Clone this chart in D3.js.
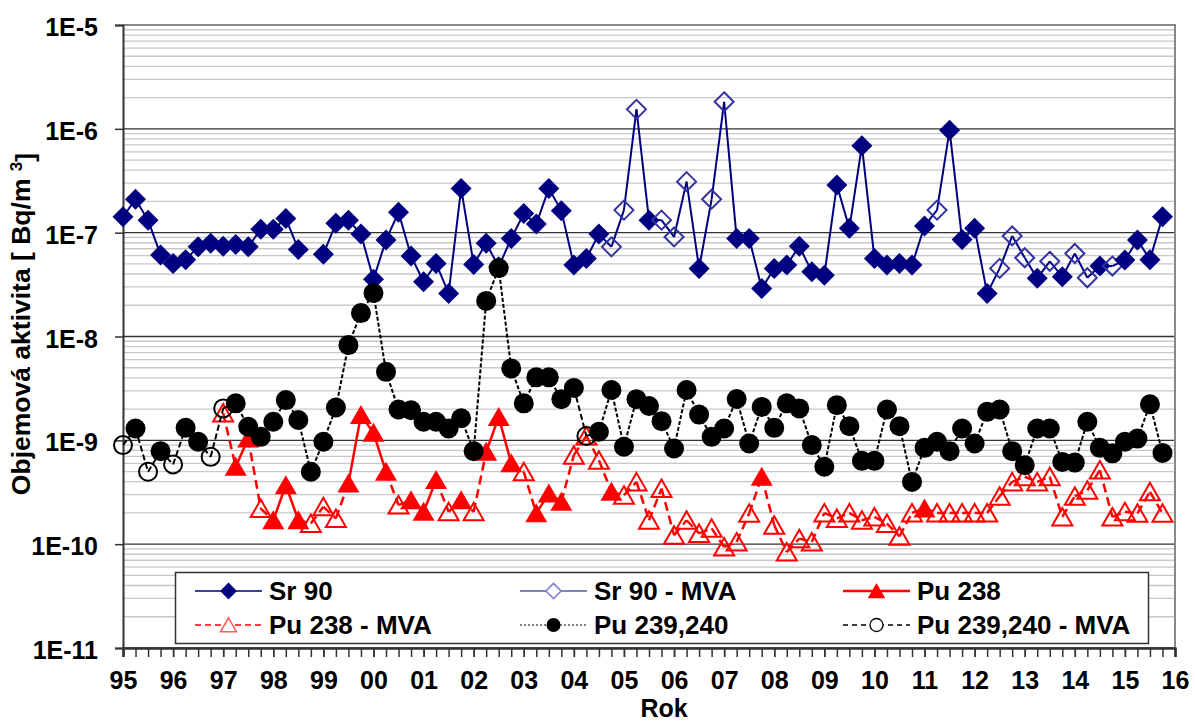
<!DOCTYPE html>
<html>
<head>
<meta charset="utf-8">
<script src="https://cdnjs.cloudflare.com/ajax/libs/d3/7.8.5/d3.min.js"></script>
<style>
  body { margin: 0; background: #fff; }
  text { font-family: "Liberation Sans", Arial, sans-serif; font-weight: bold; fill: #000; }
</style>
</head>
<body>
<div id="chart"></div>
<script>
// one value per quarter, 1995 Q1 .. 2015 Q4 (one year per row)
const yearLabels = ['95','96','97','98','99','00','01','02','03','04','05',
  '06','07','08','09','10','11','12','13','14','15','16'];
const yTickLabels = ['1E-11','1E-10','1E-9','1E-8','1E-7','1E-6','1E-5'];

const sr90 = [
  1.42e-7, 2.1e-7, 1.32e-7, 6.1e-8,
  5.06e-8, 5.5e-8, 7.3e-8, 7.9e-8,
  7.4e-8, 7.7e-8, 7.3e-8, 1.08e-7,
  1.08e-7, 1.37e-7, 6.9e-8, null,
  6.2e-8, 1.23e-7, 1.32e-7, 9.7e-8,
  3.55e-8, 8.5e-8, 1.57e-7, 5.95e-8,
  3.37e-8, 5.06e-8, 2.6e-8, 2.67e-7,
  4.95e-8, 7.9e-8, 4.7e-8, 8.8e-8,
  1.53e-7, 1.21e-7, 2.67e-7, 1.63e-7,
  4.88e-8, 5.65e-8, 9.7e-8, null,
  null, null, 1.32e-7, null,
  null, null, 4.53e-8, null,
  null, 8.8e-8, 8.8e-8, 2.9e-8,
  4.53e-8, 4.88e-8, 7.4e-8, 4.2e-8,
  3.9e-8, 2.88e-7, 1.1e-7, 6.88e-7,
  5.65e-8, 4.88e-8, 5.06e-8, 4.88e-8,
  1.16e-7, null, 9.7e-7, 8.6e-8,
  1.1e-7, 2.6e-8, null, null,
  null, 3.63e-8, null, 3.77e-8,
  null, null, 4.77e-8, null,
  5.45e-8, 8.5e-8, 5.5e-8, 1.42e-7
];
const sr90Mva = [
  null, null, null, null,
  null, null, null, null,
  null, null, null, null,
  null, null, null, null,
  null, null, null, null,
  null, null, null, null,
  null, null, null, null,
  null, null, null, null,
  null, null, null, null,
  null, null, null, 7.3e-8,
  1.65e-7, 1.54e-6, null, 1.32e-7,
  9.1e-8, 3.1e-7, null, 2.1e-7,
  1.82e-6, null, null, null,
  null, null, null, null,
  null, null, null, null,
  null, null, null, null,
  null, 1.65e-7, null, null,
  null, null, 4.53e-8, 9.3e-8,
  5.73e-8, null, 5.3e-8, null,
  6.3e-8, 3.68e-8, null, 4.77e-8,
  null, null, null, null
];
const pu238 = [
  null, null, null, null,
  null, null, null, null,
  null, 5.56e-10, 1.04e-9, null,
  1.7e-10, 3.7e-10, 1.7e-10, null,
  null, null, 3.85e-10, 1.75e-9,
  1.18e-9, 4.98e-10, null, 2.65e-10,
  2.05e-10, 4.14e-10, null, 2.65e-10,
  null, 7.75e-10, 1.68e-9, 6.0e-10,
  null, 1.98e-10, 3.07e-10, 2.56e-10,
  null, null, null, 3.19e-10,
  null, null, null, null,
  null, null, null, null,
  null, null, null, 4.46e-10,
  null, null, null, null,
  null, null, null, null,
  null, null, null, null,
  2.2e-10, null, null, null,
  null, null, null, null,
  null, null, null, null,
  null, null, null, null,
  null, null, null, null
];
const pu238Mva = [
  null, null, null, null,
  null, null, null, null,
  1.83e-9, null, null, 2.2e-10,
  null, null, null, 1.58e-10,
  2.29e-10, 1.77e-10, null, null,
  null, null, 2.38e-10, null,
  null, null, 2.05e-10, null,
  2.05e-10, null, null, null,
  4.98e-10, null, null, null,
  7.2e-10, 1.1e-9, 6.44e-10, null,
  2.96e-10, 3.98e-10, 1.7e-10, 3.43e-10,
  1.22e-10, 1.7e-10, 1.27e-10, 1.42e-10,
  9.4e-11, 1.05e-10, 1.98e-10, null,
  1.52e-10, 8.4e-11, 1.13e-10, 1.05e-10,
  2.0e-10, 1.77e-10, 2.0e-10, 1.7e-10,
  1.83e-10, 1.58e-10, 1.19e-10, 2.0e-10,
  null, 2.0e-10, 2.0e-10, 2.0e-10,
  2.0e-10, 2.0e-10, 2.9e-10, 3.98e-10,
  4.46e-10, 3.98e-10, 4.46e-10, 1.83e-10,
  2.9e-10, 3.3e-10, 5.17e-10, 1.83e-10,
  2.05e-10, 1.98e-10, 3.19e-10, 1.98e-10
];
const pu239 = [
  null, 1.3e-9, null, 7.87e-10,
  null, 1.32e-9, 9.7e-10, null,
  null, 2.27e-9, 1.35e-9, 1.08e-9,
  1.51e-9, 2.44e-9, 1.57e-9, 4.98e-10,
  9.7e-10, 2.07e-9, 8.26e-9, 1.68e-8,
  2.62e-8, 4.57e-9, 1.98e-9, 1.95e-9,
  1.51e-9, 1.51e-9, 1.3e-9, 1.63e-9,
  7.87e-10, 2.2e-8, 4.56e-8, 4.93e-9,
  2.27e-9, 4.04e-9, 4.04e-9, 2.49e-9,
  3.2e-9, null, 1.21e-9, 3.05e-9,
  8.67e-10, 2.49e-9, 2.14e-9, 1.53e-9,
  8.35e-10, 3.05e-9, 1.77e-9, 1.08e-9,
  1.3e-9, 2.5e-9, 9.33e-10, 2.1e-9,
  1.32e-9, 2.27e-9, 2.03e-9, 9.0e-10,
  5.56e-10, 2.18e-9, 1.37e-9, 6.35e-10,
  6.35e-10, 1.98e-9, 1.37e-9, 3.98e-10,
  8.47e-10, 9.7e-10, 7.87e-10, 1.3e-9,
  9.33e-10, 1.88e-9, 1.98e-9, 7.87e-10,
  5.77e-10, 1.3e-9, 1.3e-9, 6.2e-10,
  6.1e-10, 1.51e-9, 8.47e-10, 7.5e-10,
  9.7e-10, 1.04e-9, 2.22e-9, 7.57e-10
];
const pu239Mva = [
  9.0e-10, null, 4.98e-10, null,
  5.86e-10, null, null, 6.94e-10,
  2.03e-9, null, null, null,
  null, null, null, null,
  null, null, null, null,
  null, null, null, null,
  null, null, null, null,
  null, null, null, null,
  null, null, null, null,
  null, 1.1e-9, null, null,
  null, null, null, null,
  null, null, null, null,
  null, null, null, null,
  null, null, null, null,
  null, null, null, null,
  null, null, null, null,
  null, null, null, null,
  null, null, null, null,
  null, null, null, null,
  null, null, null, null,
  null, null, null, null
];

const width = 1195, height = 724;
const margin = {top: 25, right: 20, bottom: 76, left: 123};

const svg = d3.select('#chart').append('svg')
  .attr('width', width)
  .attr('height', height);

const x = d3.scaleLinear().domain([95, 116]).range([margin.left, width - margin.right]);
const y = d3.scaleLog().domain([1e-11, 1e-5]).range([height - margin.bottom, margin.top]);
const qx = i => x(95 + i / 4);

// gridlines
const minor = [];
for (let e = -11; e < -5; e++) for (let k = 2; k <= 9; k++) minor.push(k * Math.pow(10, e));
const decades = yTickLabels.map(s => +s);

svg.append('g').selectAll('line').data(minor).enter().append('line')
  .attr('x1', x(95)).attr('x2', x(116))
  .attr('y1', d => y(d)).attr('y2', d => y(d))
  .style('stroke', '#c8c8c8').style('stroke-width', 1.3);
svg.append('g').selectAll('line').data(decades.slice(0, -1)).enter().append('line')
  .attr('x1', x(95)).attr('x2', x(116))
  .attr('y1', d => y(d)).attr('y2', d => y(d))
  .style('stroke', '#333').style('stroke-width', 1.3);

// plot border (top / right)
svg.append('path')
  .attr('d', `M${x(95)},${y(1e-5)}H${x(116)}V${y(1e-11)}`)
  .style('fill', 'none').style('stroke', '#888').style('stroke-width', 2);

// axes
const yAxis = svg.append('g')
  .attr('transform', `translate(${margin.left},0)`)
  .call(d3.axisLeft(y).tickValues(decades)
    .tickFormat((d, i) => yTickLabels[i]).tickSize(8).tickPadding(17));
yAxis.selectAll('text').attr('dy', '0.42em').style('font-size', '25px');

const quarterTicks = d3.range(0, 85).map(i => 95 + i / 4);
svg.append('g')
  .attr('transform', `translate(0,${y(1e-11)})`)
  .call(d3.axisBottom(x).tickValues(quarterTicks).tickFormat('').tickSize(9));
const xAxis = svg.append('g')
  .attr('transform', `translate(0,${y(1e-11)})`)
  .call(d3.axisBottom(x).tickValues(d3.range(95, 117))
    .tickFormat((d, i) => yearLabels[i]).tickSize(9).tickPadding(14));
xAxis.selectAll('text').style('font-size', '25px');

svg.selectAll('.domain').style('stroke', '#333').style('stroke-width', 2);
svg.selectAll('.tick line').style('stroke', '#333').style('stroke-width', 1.5);

// axis titles
svg.append('text')
  .attr('x', 664).attr('y', 717)
  .style('text-anchor', 'middle').style('font-size', '25px')
  .text('Rok');

const yTitle = svg.append('text')
  .attr('transform', 'translate(30,324) rotate(-90)')
  .style('text-anchor', 'middle').style('font-size', '26.5px');
yTitle.append('tspan').text('Objemová aktivita [ Bq/m ');
yTitle.append('tspan').attr('dy', '-0.45em').style('font-size', '17px').text('3');
yTitle.append('tspan').attr('dy', '0.45em').text(']');

// marker shapes
const shapes = {
  diamond: 'M0,-10.5L10.5,0L0,10.5L-10.5,0Z',
  diamondOpen: 'M0,-9.5L9.5,0L0,9.5L-9.5,0Z',
  triangle: 'M0,-10L11,9L-11,9Z',
  triangleOpen: 'M0,-9L10,8.5L-10,8.5Z'
};

const line = d3.line().x(d => qx(d.i)).y(d => y(d.v));

function drawSeries(vals, mvaVals, opt) {
  const pts = vals.map((v, i) => {
    if (v != null) return {i: i, v: v, mva: false};
    if (mvaVals[i] != null) return {i: i, v: mvaVals[i], mva: true};
    return null;
  });
  const g = svg.append('g');
  // line segments between neighbouring quarters
  for (let i = 0; i < pts.length - 1; i++) {
    const a = pts[i], b = pts[i + 1];
    if (!a || !b) continue;
    const m = a.mva || b.mva;
    g.append('path')
      .attr('d', line([a, b]))
      .style('fill', 'none')
      .style('stroke', m ? opt.mvaStroke : opt.stroke)
      .style('stroke-width', opt.width)
      .style('stroke-dasharray', m ? opt.mvaDash : opt.dash);
  }
  pts.filter(p => p).forEach(p => {
    const node = p.mva ? opt.open : opt.filled;
    if (node === 'circle') {
      g.append('circle').attr('cx', qx(p.i)).attr('cy', y(p.v)).attr('r', 10)
        .style('fill', opt.color);
    } else if (node === 'circleOpen') {
      g.append('circle').attr('cx', qx(p.i)).attr('cy', y(p.v)).attr('r', 9)
        .style('fill', 'none').style('stroke', opt.color).style('stroke-width', 2);
    } else {
      const isOpen = node.indexOf('Open') > 0;
      g.append('path')
        .attr('d', shapes[node])
        .attr('transform', `translate(${qx(p.i)},${y(p.v)})`)
        .style('fill', isOpen ? 'none' : opt.color)
        .style('stroke', isOpen ? opt.openColor : 'none')
        .style('stroke-width', 2);
    }
  });
}

drawSeries(sr90, sr90Mva, {
  stroke: '#000080', mvaStroke: '#000080', width: 2, dash: null, mvaDash: null,
  color: '#000080', openColor: '#3333a0', filled: 'diamond', open: 'diamondOpen'
});
drawSeries(pu238, pu238Mva, {
  stroke: '#ff0000', mvaStroke: '#ff0000', width: 2.5, dash: null, mvaDash: '9,5',
  color: '#ff0000', openColor: '#ff0000', filled: 'triangle', open: 'triangleOpen'
});
drawSeries(pu239, pu239Mva, {
  stroke: '#000', mvaStroke: '#000', width: 2, dash: '4,2', mvaDash: '6,3',
  color: '#000', openColor: '#000', filled: 'circle', open: 'circleOpen'
});

// legend
const legendItems = [
  {name: 'Sr 90', col: 0, row: 0, stroke: '#000080', w: 1.5, dash: null, mark: 'diamond', fill: '#000080'},
  {name: 'Sr 90 - MVA', col: 1, row: 0, stroke: '#5a5ab0', w: 1.5, dash: null, mark: 'diamondOpen', fill: '#8080c8'},
  {name: 'Pu 238', col: 2, row: 0, stroke: '#ff0000', w: 2.5, dash: null, mark: 'triangle', fill: '#ff0000'},
  {name: 'Pu 238 - MVA', col: 0, row: 1, stroke: '#ff0000', w: 1.5, dash: '6,4', mark: 'triangleOpen', fill: '#ff6060'},
  {name: 'Pu 239,240', col: 1, row: 1, stroke: '#000', w: 1, dash: '2,2', mark: 'circle', fill: '#000'},
  {name: 'Pu 239,240 - MVA', col: 2, row: 1, stroke: '#000', w: 1.5, dash: '5,4', mark: 'circleOpen', fill: '#000'}
];
const legCols = [195, 520, 843];
const legRows = [591, 625];

const leg = svg.append('g');
leg.append('rect')
  .attr('x', 175.5).attr('y', 572.5).attr('width', 973).attr('height', 71)
  .style('fill', '#fff').style('stroke', '#333').style('stroke-width', 1.5);

legendItems.forEach(it => {
  const lx = legCols[it.col], ly = legRows[it.row];
  leg.append('line')
    .attr('x1', lx).attr('x2', lx + 67).attr('y1', ly).attr('y2', ly)
    .style('stroke', it.stroke).style('stroke-width', it.w)
    .style('stroke-dasharray', it.dash);
  const mx = lx + 33.5;
  if (it.mark === 'circle') {
    leg.append('circle').attr('cx', mx).attr('cy', ly).attr('r', 7).style('fill', '#000');
  } else if (it.mark === 'circleOpen') {
    leg.append('circle').attr('cx', mx).attr('cy', ly).attr('r', 6.5)
      .style('fill', '#fff').style('stroke', '#000').style('stroke-width', 1.3);
  } else {
    const open = it.mark.indexOf('Open') > 0;
    leg.append('path')
      .attr('d', shapes[it.mark])
      .attr('transform', `translate(${mx},${ly}) scale(0.8)`)
      .style('fill', open ? '#fff' : it.fill)
      .style('stroke', open ? it.fill : 'none')
      .style('stroke-width', 2);
  }
  leg.append('text')
    .attr('x', lx + 74).attr('y', ly + 9)
    .style('font-size', '26px')
    .text(it.name);
});
</script>
</body>
</html>
